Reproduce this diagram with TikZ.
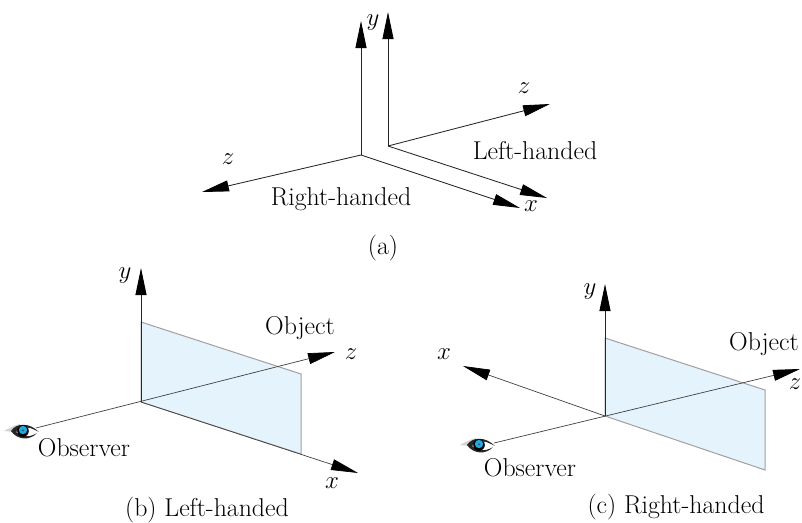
\documentclass[tikz,border=0pt]{standalone}
\usetikzlibrary{arrows.meta}
\definecolor{plate}{RGB}{229,243,252}
\definecolor{plateedge}{RGB}{160,160,160}
\definecolor{iris}{RGB}{30,170,225}
\newcommand{\eyedraw}[1]{%
 \begin{scope}[shift={(#1)}]
  \fill[gray!35] (-19,0) .. controls (-13,-3) and (-8,-6) .. (-3,-7) -- (-6,-1) -- (-9,1) -- cycle;
  \fill[black!85] (-12,0) .. controls (-7,-8) and (6,-9) .. (16,1) .. controls (7,-4) and (2,-4) .. (-2,-3) -- (-7,1) .. controls (-3,6) and (6,7) .. (14,2) .. controls (7,10) and (-6,9) .. (-12,0) -- cycle;
  \fill[white] (-6,0) .. controls (-2,-5) and (7,-5) .. (14,1.5) .. controls (7,6) and (-2,6) .. (-6,0) -- cycle;
  \fill[black] (0,0) circle (5.8);
  \fill[iris] (0,-1) circle (4.2);
  \fill[black!70] (0,-0.6) circle (1);
 \end{scope}}
\tikzset{
 axis/.style={line width=0.85pt,black!85,-{Triangle[length=27pt,width=11pt,black]}},
 thinaxis/.style={axis,line width=0.7pt,black!75},
 sheet/.style={fill=plate,draw=plateedge,line width=1pt},
 lab/.style={inner sep=0pt,text=black},
}
\begin{document}
\begin{tikzpicture}[x=1pt,y=-1pt,font=\fontsize{25.8}{30}\selectfont]
\useasboundingbox (0,0) rectangle (802,522);
% (a)
\coordinate (ro) at (361,155);
\coordinate (ry) at (361,21);
\coordinate (rz) at (202,192);
\coordinate (rx) at (520,208);
\coordinate (lo) at (388,146);
\coordinate (ly) at (388,12);
\coordinate (lz) at (550,104);
\coordinate (lx) at (547,198);
\draw[axis] (ro) -- (ry);
\draw[axis] (ro) -- (rz);
\draw[axis] (ro) -- (rx);
\draw[axis] (lo) -- (ly);
\draw[axis] (lo) -- (lz);
\draw[axis] (lo) -- (lx);
\node[lab] (ya) at (373,23) {$y$};
\node[lab] (za) at (524,88) {$z$};
\node[lab] (zb) at (228,159) {$z$};
\node[lab] (xa) at (531,206) {$x$};
\node[lab] (lh) at (535,151) {Left-handed};
\node[lab] (rh) at (341,199) {Right-handed};
\node[lab] (cap1) at (383,248) {(a)};
% (b)
\coordinate (bo) at (141,402);
\coordinate (by) at (141,268);
\coordinate (bz) at (335,352);
\coordinate (bx) at (358,473);
\coordinate (be) at (36,428);
\coordinate (b1) at (141,322);
\coordinate (b2) at (301,374);
\coordinate (b3) at (301,454);
\draw[sheet] (bo) -- (b1) -- (b2) -- (b3) -- cycle;
\draw[axis] (bo) -- (by);
\draw[thinaxis] (be) -- (bz);
\draw[thinaxis] (bo) -- (bx);
\eyedraw{23,431}
\node[lab] (yb) at (125,276) {$y$};
\node[lab] (zc) at (351,354) {$z$};
\node[lab] (xb) at (332,483) {$x$};
\node[lab] (ob) at (300,328) {Object};
\node[lab] (obsb) at (84,448) {Observer};
\node[lab] (cap2) at (207,510) {(b) Left-handed};
% (c)
\coordinate (co) at (605,416);
\coordinate (cy) at (605,284);
\coordinate (cz) at (800,369);
\coordinate (cx) at (463,366);
\coordinate (ce) at (494,443);
\coordinate (c1) at (605,338);
\coordinate (c2) at (765,390);
\coordinate (c3) at (765,470);
\draw[sheet] (co) -- (c1) -- (c2) -- (c3) -- cycle;
\draw[axis] (co) -- (cy);
\draw[thinaxis] (ce) -- (cz);
\draw[thinaxis] (co) -- (cx);
\eyedraw{479,445}
\node[lab] (yc) at (590,292) {$y$};
\node[lab] (zd) at (795,384) {$z$};
\node[lab] (xc) at (444,354) {$x$};
\node[lab] (oc) at (764,344) {Object};
\node[lab] (obsc) at (530,468) {Observer};
\node[lab] (cap3) at (676,507) {(c) Right-handed};
\end{tikzpicture}
\end{document}
